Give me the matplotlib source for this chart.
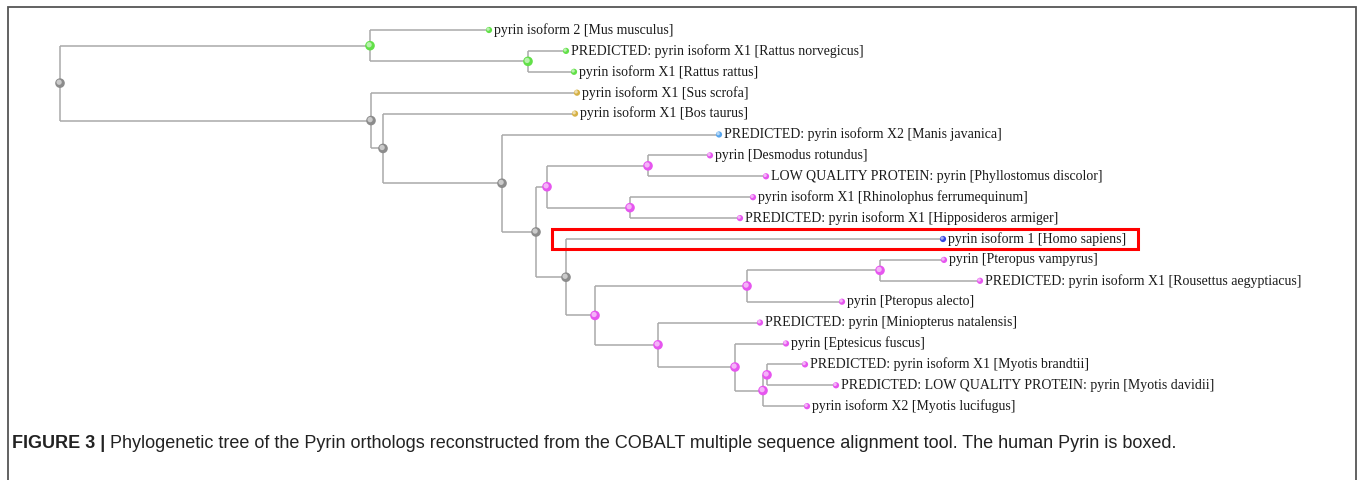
import matplotlib.pyplot as plt
from matplotlib.patches import Rectangle

# leaves, top to bottom
LEAF_LABELS = [
    "pyrin isoform 2 [Mus musculus]",
    "PREDICTED: pyrin isoform X1 [Rattus norvegicus]",
    "pyrin isoform X1 [Rattus rattus]",
    "pyrin isoform X1 [Sus scrofa]",
    "pyrin isoform X1 [Bos taurus]",
    "PREDICTED: pyrin isoform X2 [Manis javanica]",
    "pyrin [Desmodus rotundus]",
    "LOW QUALITY PROTEIN: pyrin [Phyllostomus discolor]",
    "pyrin isoform X1 [Rhinolophus ferrumequinum]",
    "PREDICTED: pyrin isoform X1 [Hipposideros armiger]",
    "pyrin isoform 1 [Homo sapiens]",
    "pyrin [Pteropus vampyrus]",
    "PREDICTED: pyrin isoform X1 [Rousettus aegyptiacus]",
    "pyrin [Pteropus alecto]",
    "PREDICTED: pyrin [Miniopterus natalensis]",
    "pyrin [Eptesicus fuscus]",
    "PREDICTED: pyrin isoform X1 [Myotis brandtii]",
    "PREDICTED: LOW QUALITY PROTEIN: pyrin [Myotis davidii]",
    "pyrin isoform X2 [Myotis lucifugus]",
]
LEAF_DEPTH = [489, 566, 574, 577, 575, 719, 710, 766, 753, 740,
              943, 944, 980, 842, 760, 786, 805, 836, 807]
LEAF_CLADE = ["rodent"] * 3 + ["ungulate"] * 2 + ["pangolin"] + ["bat"] * 4 \
    + ["human"] + ["bat"] * 8

# internal nodes: children are leaf indices (int) or node ids (str)
NODE_IDS = ["root", "A", "R", "B", "C", "D", "E", "F", "H", "I",
            "G", "J", "K", "M", "L", "N", "O", "P"]
NODE_DEPTH = [60, 370, 528, 371, 383, 502, 536, 547, 648, 630,
              566, 595, 747, 880, 658, 735, 763, 767]
NODE_CHILDREN = [("A", "B"), (0, "R"), (1, 2), (3, "C"), (4, "D"), (5, "E"),
                 ("F", "G"), ("H", "I"), (6, 7), (8, 9), (10, "J"), ("K", "L"),
                 ("M", 13), (11, 12), (14, "N"), (15, "O"), ("P", 18), (16, 17)]
NODE_CLADE = ["other", "rodent", "rodent", "other", "other", "other", "other",
              "bat", "bat", "bat", "other", "bat", "bat", "bat", "bat", "bat",
              "bat", "bat"]

CAPTION_BOLD = "FIGURE 3 | "
CAPTION_TEXT = ("Phylogenetic tree of the Pyrin orthologs reconstructed from the "
                "COBALT multiple sequence alignment tool. The human Pyrin is boxed.")

_COLORS = {
    "rodent": "#62e048",
    "ungulate": "#d6b145",
    "pangolin": "#58a6ee",
    "human": "#3444e0",
    "bat": "#e656ef",
    "other": "#8c8c8c",
}
_LINE_COLOR = "#a9a9a9"
_ROW0 = 30
_ROW_STEP = 20.9
_W, _H = 1357, 480


def _lighter(hex_color, f=0.55):
    r, g, b = (int(hex_color[i:i + 2], 16) / 255 for i in (1, 3, 5))
    return (r + (1 - r) * f, g + (1 - g) * f, b + (1 - b) * f)


def _dot(ax, x, y, color, size):
    ax.scatter([x], [y], s=size, color=color, edgecolors="none", zorder=3)
    ax.scatter([x - 0.9], [y - 0.9], s=size * 0.3, color=_lighter(color),
               edgecolors="none", zorder=4)


def _main():
    fig = plt.figure(figsize=(_W / 100, _H / 100), dpi=100)
    ax = fig.add_axes([0, 0, 1, 1])
    ax.set_xlim(0, _W)
    ax.set_ylim(_H, 0)
    ax.axis("off")

    node_index = {n: i for i, n in enumerate(NODE_IDS)}
    y_cache = {}

    def pos(c):
        if isinstance(c, int):
            return LEAF_DEPTH[c], _ROW0 + c * _ROW_STEP
        i = node_index[c]
        if c not in y_cache:
            ys = [pos(k)[1] for k in NODE_CHILDREN[i]]
            y_cache[c] = sum(ys) / len(ys)
        return NODE_DEPTH[i], y_cache[c]

    # branches
    for i, nid in enumerate(NODE_IDS):
        x0, _ = pos(nid)
        kids = [pos(k) for k in NODE_CHILDREN[i]]
        ax.plot([x0, x0], [kids[0][1], kids[-1][1]], color=_LINE_COLOR,
                lw=1.1, solid_capstyle="butt", zorder=1)
        for kx, ky in kids:
            ax.plot([x0, kx], [ky, ky], color=_LINE_COLOR, lw=1.1,
                    solid_capstyle="butt", zorder=1)

    # internal nodes
    for i, nid in enumerate(NODE_IDS):
        x0, y0 = pos(nid)
        _dot(ax, x0, y0, _COLORS[NODE_CLADE[i]], 48)

    # leaves
    for i, label in enumerate(LEAF_LABELS):
        x0, y0 = pos(i)
        _dot(ax, x0, y0, _COLORS[LEAF_CLADE[i]], 20)
        ax.text(x0 + 5, y0, label, family="Liberation Serif", fontsize=10,
                ha="left", va="center", color="#1a1a1a", zorder=5)

    # box around the human sequence
    human = LEAF_CLADE.index("human")
    _, hy = pos(human)
    ax.add_patch(Rectangle((552, hy - 10), 586, 20, fill=False,
                           edgecolor="#ff0000", lw=2.2, zorder=6))

    # frame
    ax.plot([8, 8, 1356, 1356], [_H, 7, 7, _H], color="#555555", lw=1.3,
            solid_joinstyle="miter")

    # caption
    t1 = fig.text(12 / _W, 1 - 444 / _H, CAPTION_BOLD, family="Liberation Sans",
                  fontweight="bold", fontsize=13, va="center", ha="left",
                  color="#222222")
    fig.canvas.draw()
    bb = t1.get_window_extent()
    fig.text(bb.x1 / _W, 1 - 444 / _H, CAPTION_TEXT, family="Liberation Sans",
             fontsize=13, va="center", ha="left", color="#222222")

    fig.savefig("out.png", dpi=100)


if __name__ == "__main__":
    _main()
